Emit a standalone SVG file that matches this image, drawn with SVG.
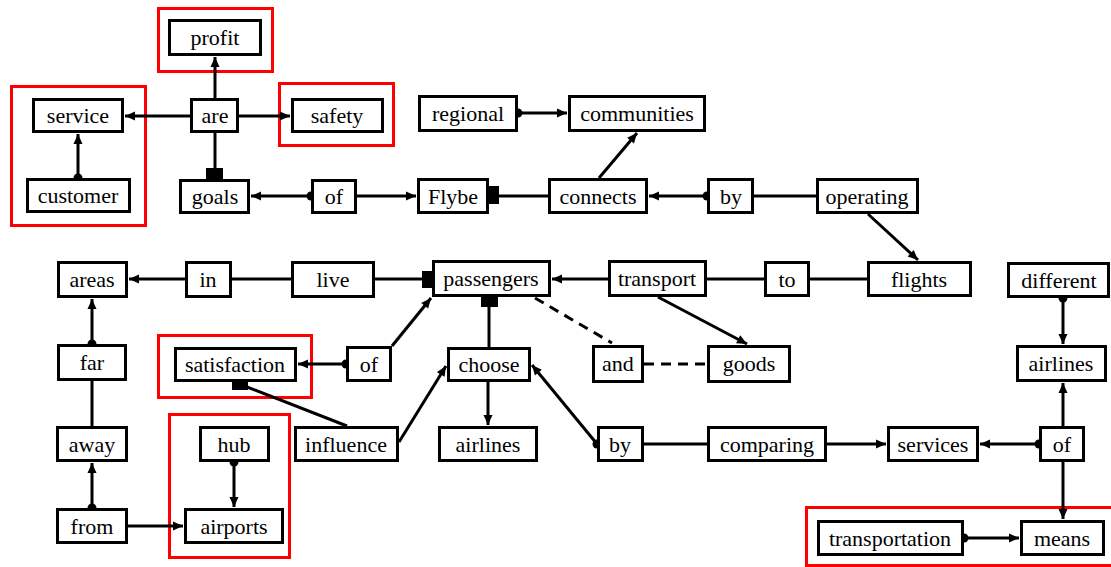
<svg xmlns="http://www.w3.org/2000/svg" width="1111" height="567" viewBox="0 0 1111 567">
  <style>
    .node rect { fill: #ffffff; stroke: #000000; stroke-width: 3; }
    .node text { font-family: 'Liberation Serif', 'DejaVu Serif', 'Times New Roman', serif; font-size: 22px; fill: #000000; text-anchor: middle; }
    .group { fill: none; stroke: #ff0000; stroke-width: 3; }
    .edge { fill: none; stroke: #000000; stroke-width: 3; }
    .arrow { marker-end: url(#head); }
    .dash { stroke-dasharray: 10 7; }
    .dot { fill: #000000; }
    .port { fill: #000000; }
  </style>
  <defs>
    <marker id="head" viewBox="0 0 10 10" refX="10" refY="5" markerWidth="11" markerHeight="10" markerUnits="userSpaceOnUse" orient="auto">
      <path d="M0,0.5 L10,5 L0,9.5 z" fill="#000000"/>
    </marker>
  </defs>
  <rect width="1111" height="567" fill="#ffffff"/>

  <!-- highlighted groups -->
  <g id="groups">
    <rect class="group" x="158.5" y="8.5" width="114" height="63"/>
    <rect class="group" x="11.5" y="86.5" width="134" height="139"/>
    <rect class="group" x="279.5" y="83.5" width="114" height="62"/>
    <rect class="group" x="158.5" y="335.5" width="153" height="62"/>
    <rect class="group" x="169.5" y="414.5" width="120" height="143"/>
    <rect class="group" x="806.5" y="507.5" width="320" height="58"/>
  </g>

  <!-- connectors -->
  <g id="connectors">
    <path class="edge arrow" d="M215,98 L215,57"/>
    <path class="edge arrow" d="M190,116 L125,116"/>
    <path class="edge arrow" d="M239,116 L290,116"/>
    <path class="edge arrow" d="M78,178 L78,134"/>
    <path class="edge" d="M215,133 L215,168"/>
    <path class="edge arrow" d="M311,196 L251,196"/>
    <path class="edge arrow" d="M357,196 L416,196"/>
    <path class="edge" d="M499,196 L548,196"/>
    <path class="edge arrow" d="M707,196 L649,196"/>
    <path class="edge" d="M754,196 L816,196"/>
    <path class="edge arrow" d="M599,178 L637,133"/>
    <path class="edge arrow" d="M518,113 L567,113"/>
    <path class="edge arrow" d="M868,214 L918,260"/>
    <path class="edge arrow" d="M185,279 L129,279"/>
    <path class="edge" d="M232,279 L291,279"/>
    <path class="edge" d="M375,279 L422,279"/>
    <path class="edge arrow" d="M608,279 L552,279"/>
    <path class="edge" d="M707,279 L764,279"/>
    <path class="edge" d="M810,279 L867,279"/>
    <path class="edge" d="M489,307 L489,347"/>
    <path class="edge dash" d="M535,298 L612,343"/>
    <path class="edge dash" d="M644,364 L707,364"/>
    <path class="edge arrow" d="M658,297 L747,344"/>
    <path class="edge arrow" d="M1063,298 L1063,344"/>
    <path class="edge arrow" d="M92,344 L92,299"/>
    <path class="edge arrow" d="M346,364 L298,364"/>
    <path class="edge arrow" d="M392,346 L431,298"/>
    <path class="edge" d="M247,387 L347,426"/>
    <path class="edge arrow" d="M399,442 L446,366"/>
    <path class="edge arrow" d="M488,382 L488,425"/>
    <path class="edge arrow" d="M597,444 L532,365"/>
    <path class="edge" d="M92,426 L92,381"/>
    <path class="edge arrow" d="M92,508 L92,463"/>
    <path class="edge arrow" d="M128,526 L183,526"/>
    <path class="edge arrow" d="M234,462 L234,507"/>
    <path class="edge" d="M644,444 L707,444"/>
    <path class="edge arrow" d="M827,444 L886,444"/>
    <path class="edge arrow" d="M1039,444 L980,444"/>
    <path class="edge arrow" d="M1063,426 L1063,383"/>
    <path class="edge arrow" d="M1063,462 L1063,519"/>
    <path class="edge arrow" d="M964,538 L1019,538"/>
    <!-- source dots -->
    <circle class="dot" cx="78" cy="178" r="4.5"/>
    <circle class="dot" cx="311" cy="196" r="4.5"/>
    <circle class="dot" cx="707" cy="196" r="4.5"/>
    <circle class="dot" cx="518" cy="113" r="4.5"/>
    <circle class="dot" cx="1063" cy="298" r="4.5"/>
    <circle class="dot" cx="92" cy="344" r="4.5"/>
    <circle class="dot" cx="346" cy="364" r="4.5"/>
    <circle class="dot" cx="597" cy="444" r="4.5"/>
    <circle class="dot" cx="92" cy="508" r="4.5"/>
    <circle class="dot" cx="234" cy="462" r="4.5"/>
    <circle class="dot" cx="1039" cy="444" r="4.5"/>
    <circle class="dot" cx="964" cy="538" r="4.5"/>
    <!-- square ports -->
    <rect class="port" x="206" y="168" width="17" height="11"/>
    <rect class="port" x="489" y="186" width="10" height="18"/>
    <rect class="port" x="422" y="271" width="10" height="17"/>
    <rect class="port" x="481" y="297" width="17" height="10"/>
    <rect class="port" x="232" y="382" width="16" height="8"/>
  </g>

  <!-- nodes -->
  <g font-family="Liberation Serif, DejaVu Serif, serif" font-size="22">
  <g id="n-profit" class="node"><rect x="169.5" y="20.5" width="91" height="34"/><text x="215" y="45">profit</text></g>
  <g id="n-service" class="node"><rect x="33.5" y="99.5" width="89" height="32"/><text x="78" y="123">service</text></g>
  <g id="n-are" class="node"><rect x="191.5" y="99.5" width="46" height="32"/><text x="215" y="123">are</text></g>
  <g id="n-safety" class="node"><rect x="292.5" y="99.5" width="90" height="32"/><text x="337" y="123">safety</text></g>
  <g id="n-customer" class="node"><rect x="27.5" y="179.5" width="102" height="32"/><text x="78" y="203">customer</text></g>
  <g id="n-goals" class="node"><rect x="180.5" y="180.5" width="68" height="32"/><text x="215" y="204">goals</text></g>
  <g id="n-of1" class="node"><rect x="312.5" y="180.5" width="43" height="32"/><text x="334" y="204">of</text></g>
  <g id="n-flybe" class="node"><rect x="418.5" y="179.5" width="69" height="33"/><text x="453" y="204">Flybe</text></g>
  <g id="n-regional" class="node"><rect x="419.5" y="96.5" width="97" height="34"/><text x="468" y="121">regional</text></g>
  <g id="n-communities" class="node"><rect x="569.5" y="96.5" width="135" height="34"/><text x="637" y="121">communities</text></g>
  <g id="n-connects" class="node"><rect x="549.5" y="179.5" width="97" height="33"/><text x="598" y="204">connects</text></g>
  <g id="n-by1" class="node"><rect x="708.5" y="179.5" width="44" height="33"/><text x="731" y="204">by</text></g>
  <g id="n-operating" class="node"><rect x="817.5" y="179.5" width="100" height="33"/><text x="867" y="204">operating</text></g>
  <g id="n-areas" class="node"><rect x="58.5" y="262.5" width="68" height="34"/><text x="92" y="287">areas</text></g>
  <g id="n-in" class="node"><rect x="186.5" y="262.5" width="44" height="34"/><text x="208" y="287">in</text></g>
  <g id="n-live" class="node"><rect x="292.5" y="262.5" width="81" height="34"/><text x="333" y="287">live</text></g>
  <g id="n-passengers" class="node"><rect x="433.5" y="261.5" width="116" height="34"/><text x="491" y="286">passengers</text></g>
  <g id="n-transport" class="node"><rect x="609.5" y="261.5" width="96" height="34"/><text x="657" y="286">transport</text></g>
  <g id="n-to" class="node"><rect x="765.5" y="262.5" width="43" height="33"/><text x="787" y="287">to</text></g>
  <g id="n-flights" class="node"><rect x="868.5" y="262.5" width="102" height="33"/><text x="919" y="287">flights</text></g>
  <g id="n-different" class="node"><rect x="1008.5" y="263.5" width="100" height="33"/><text x="1059" y="288">different</text></g>
  <g id="n-far" class="node"><rect x="58.5" y="345.5" width="67" height="34"/><text x="92" y="370">far</text></g>
  <g id="n-satisfaction" class="node"><rect x="175.5" y="348.5" width="120" height="32"/><text x="235" y="372">satisfaction</text></g>
  <g id="n-of2" class="node"><rect x="347.5" y="347.5" width="43" height="33"/><text x="369" y="372">of</text></g>
  <g id="n-choose" class="node"><rect x="448.5" y="348.5" width="81" height="32"/><text x="489" y="372">choose</text></g>
  <g id="n-and" class="node"><rect x="593.5" y="346.5" width="49" height="35"/><text x="618" y="371">and</text></g>
  <g id="n-goods" class="node"><rect x="708.5" y="346.5" width="81" height="35"/><text x="749" y="371">goods</text></g>
  <g id="n-airlines2" class="node"><rect x="1017.5" y="346.5" width="88" height="34"/><text x="1061" y="371">airlines</text></g>
  <g id="n-away" class="node"><rect x="57.5" y="427.5" width="69" height="33"/><text x="92" y="452">away</text></g>
  <g id="n-hub" class="node"><rect x="200.5" y="427.5" width="68" height="33"/><text x="234" y="452">hub</text></g>
  <g id="n-influence" class="node"><rect x="295.5" y="427.5" width="102" height="33"/><text x="346" y="452">influence</text></g>
  <g id="n-airlines1" class="node"><rect x="439.5" y="427.5" width="97" height="33"/><text x="488" y="452">airlines</text></g>
  <g id="n-by2" class="node"><rect x="598.5" y="427.5" width="44" height="33"/><text x="620" y="452">by</text></g>
  <g id="n-comparing" class="node"><rect x="708.5" y="427.5" width="117" height="33"/><text x="767" y="452">comparing</text></g>
  <g id="n-services" class="node"><rect x="888.5" y="427.5" width="89" height="33"/><text x="933" y="452">services</text></g>
  <g id="n-of3" class="node"><rect x="1040.5" y="427.5" width="43" height="33"/><text x="1062" y="452">of</text></g>
  <g id="n-from" class="node"><rect x="57.5" y="509.5" width="69" height="33"/><text x="92" y="534">from</text></g>
  <g id="n-airports" class="node"><rect x="185.5" y="509.5" width="97" height="33"/><text x="234" y="534">airports</text></g>
  <g id="n-transportation" class="node"><rect x="818.5" y="521.5" width="144" height="33"/><text x="890" y="546">transportation</text></g>
  <g id="n-means" class="node"><rect x="1021.5" y="521.5" width="82" height="33"/><text x="1062" y="546">means</text></g>
  </g>
</svg>
